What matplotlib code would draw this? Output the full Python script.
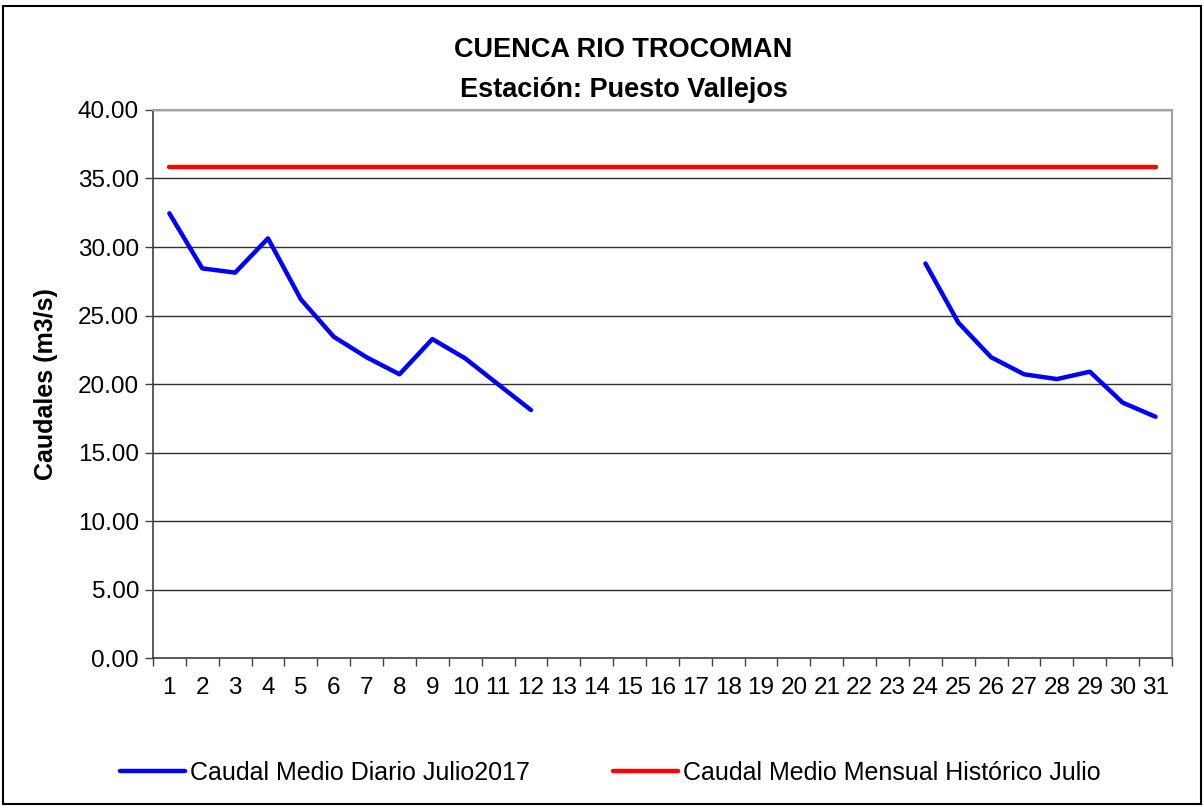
import matplotlib
matplotlib.use("Agg")
import matplotlib.pyplot as plt
import numpy as np
from matplotlib.patches import Rectangle

plt.rcParams['font.family'] = ['Liberation Sans', 'DejaVu Sans']

# Daily data, July 2017 (days 13-23 missing)
days = list(range(1, 32))
caudal_diario = [32.46, 28.44, 28.13, 30.63, 26.18, 23.45, 21.95, 20.71, 23.28, 21.87,
                 19.98, 18.10, None, None, None, None, None, None, None, None,
                 None, None, None, 28.80, 24.48, 21.95, 20.71, 20.36, 20.90, 18.64, 17.61]
caudal_historico = 35.86

diario = np.array([np.nan if v is None else v for v in caudal_diario])
historico = np.full(len(days), caudal_historico)

fig = plt.figure(figsize=(12.04, 8.07), dpi=100)
ax = fig.add_axes([0.127, 0.1846, 0.8464, 0.6791])

ax.plot(days, diario, color='#0000ff', lw=3.2, solid_capstyle='round',
        label='Caudal Medio Diario Julio2017', zorder=3)
ax.plot(days, historico, color='#ff0000', lw=3.2, solid_capstyle='round',
        label='Caudal Medio Mensual Histórico Julio', zorder=3)

ax.set_xlim(0.5, 31.5)
ax.set_ylim(0, 40)
ax.set_yticks(np.arange(0, 40.1, 5))
ax.set_yticklabels([f'{v:.2f}' for v in np.arange(0, 40.1, 5)])
ax.set_xticks(days)
ax.set_xticklabels([str(d) for d in days])
ax.set_xticks(np.arange(0.5, 31.6, 1), minor=True)
ax.tick_params(axis='x', which='major', length=0, pad=14, labelsize=17.5)
ax.tick_params(axis='x', which='minor', length=6, width=1, color='#404040')
ax.tick_params(axis='y', length=6, width=1, color='#404040', pad=4, labelsize=17.5)

ax.yaxis.grid(True, color='#303030', lw=1)
ax.set_axisbelow(True)
for s in ['top', 'right']:
    ax.spines[s].set_color('#a0a0a0')
    ax.spines[s].set_linewidth(1.5)
for s in ['left', 'bottom']:
    ax.spines[s].set_color('#404040')
    ax.spines[s].set_linewidth(1.2)

ax.set_ylabel('Caudales (m3/s)', fontsize=18, fontweight='bold', labelpad=14)

fig.text(0.518, 0.938, 'CUENCA RIO TROCOMAN', ha='center', va='center',
         fontsize=19.5, fontweight='bold')
fig.text(0.518, 0.888, 'Estación: Puesto Vallejos', ha='center', va='center',
         fontsize=19.5, fontweight='bold')

fig.legend(loc='center', bbox_to_anchor=(0.507, 0.042), ncol=2, frameon=False,
           fontsize=18, handlelength=2.6, handletextpad=0.2, columnspacing=3.3)

fig.patches.append(Rectangle((0.0025, 0.004), 0.995, 0.989, transform=fig.transFigure,
                             fill=False, edgecolor='black', lw=1.5))

fig.savefig('out.png', dpi=100)
